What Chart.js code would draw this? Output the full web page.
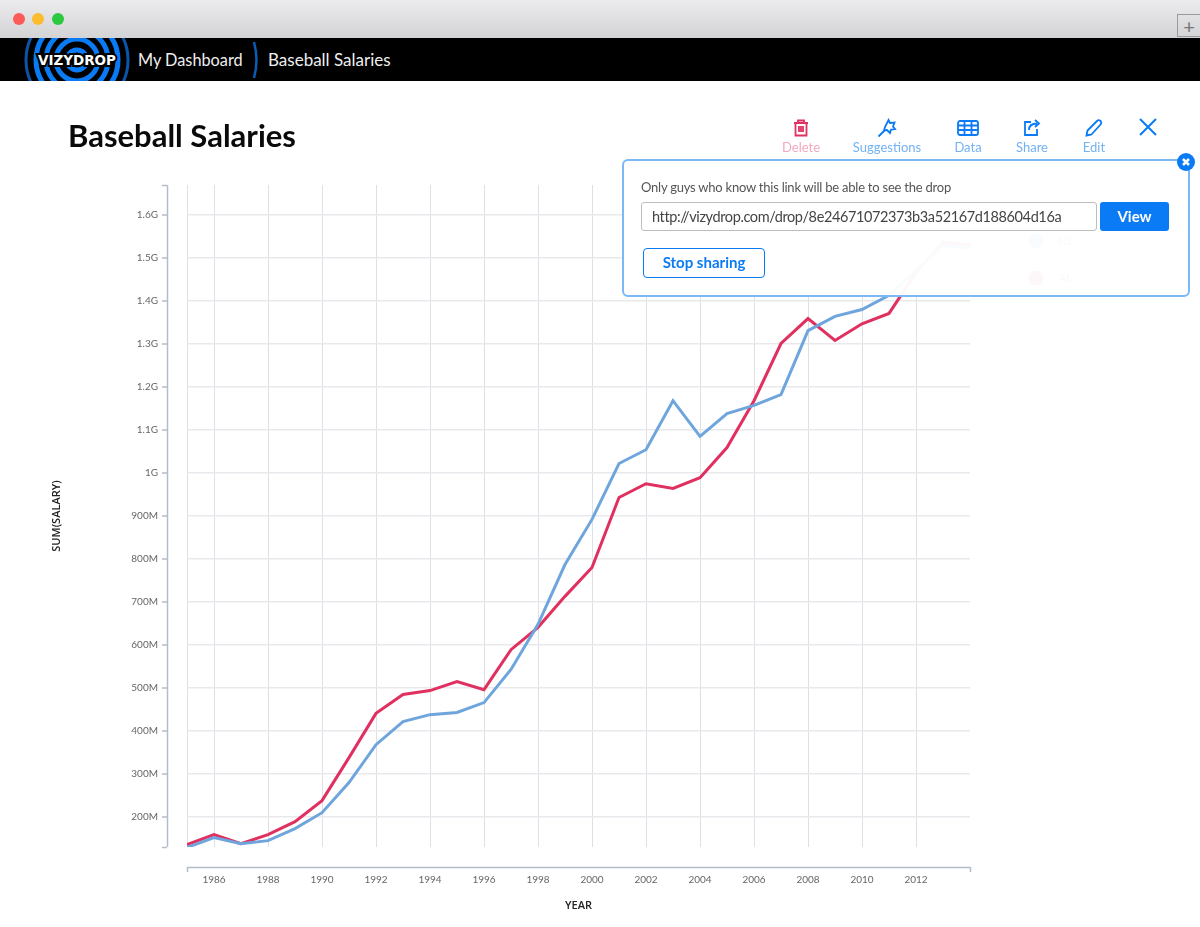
<!DOCTYPE html>
<html>
<head>
<meta charset="utf-8">
<title>Baseball Salaries</title>
<script src="https://cdn.jsdelivr.net/npm/chart.js@4"></script>
<style>
  html, body { margin: 0; padding: 0; background: #fff; }
  body { width: 1200px; height: 927px; position: relative; overflow: hidden; font-family: Lato, sans-serif; }
  #salaries { position: absolute; left: 0; top: 0; }
  .abs { position: absolute; white-space: nowrap; }
  #chrome { left: 0; top: 0; width: 1200px; height: 38px; background: linear-gradient(#ececee, #d3d2d4); }
  .dot { top: 13px; width: 12px; height: 12px; border-radius: 50%; }
  #plus { left: 1177px; top: 14px; width: 23px; height: 23px; border: 1px solid #9a9a9a; border-right: 0; box-sizing: border-box; color: #777; font-size: 20px; line-height: 22px; text-align: center; }
  #nav { left: 0; top: 38px; width: 1200px; height: 43px; background: #000; overflow: hidden; }
  .crumb { top: 50px; color: #eee; font-size: 17px; line-height: 20px; }
  h1 { margin: 0; left: 68px; top: 116px; font-size: 31px; line-height: 38px; font-weight: 700; color: #0a0a0a; }
  .tool { top: 118px; width: 90px; text-align: center; font-size: 13px; line-height: 17px; color: #73b2f3; }
  .tool svg { display: block; margin: 0 auto 1px; }
  #share { left: 622px; top: 159px; width: 568px; height: 138px; box-sizing: border-box; border: 2px solid #7ab9f6; border-radius: 6px; background: rgba(255, 255, 255, 0.96); }
  #closeShare { left: 1177px; top: 153px; width: 18px; height: 18px; border-radius: 50%; background: #0a7bf5; }
  #note { left: 641px; top: 179px; font-size: 13px; line-height: 17px; letter-spacing: -0.23px; color: #555; }
  #link { left: 641px; top: 202px; width: 456px; height: 29px; box-sizing: border-box; border: 1px solid #bdbdbd; border-radius: 3px; padding-left: 10px; font-size: 14.5px; line-height: 27px; letter-spacing: -0.39px; color: #444; background: #fff; }
  #view { left: 1100px; top: 202px; width: 69px; height: 29px; border-radius: 3px; background: #0a7bf5; color: #fff; font-size: 15px; font-weight: 700; line-height: 29px; text-align: center; }
  #stop { left: 643px; top: 248px; width: 122px; height: 30px; box-sizing: border-box; border: 1.5px solid #0a7bf5; border-radius: 4px; color: #0a7bf5; font-size: 15px; font-weight: 700; line-height: 27px; text-align: center; }
</style>
</head>
<body>
<canvas id="salaries" width="1200" height="927"></canvas>

<div class="abs" id="chrome"></div>
<div class="abs dot" style="left:13px;background:#fc5b57"></div>
<div class="abs dot" style="left:32px;background:#fdbb2e"></div>
<div class="abs dot" style="left:52px;background:#2bc840"></div>
<div class="abs" id="plus">+</div>

<div class="abs" id="nav">
  <svg width="160" height="43" style="position:absolute;left:0;top:0">
    <g fill="none" stroke="#0a7bf5" stroke-width="5">
      <circle cx="77" cy="22" r="51" stroke="#0a55a8" stroke-width="3"/>
      <circle cx="77" cy="22" r="41"/>
      <circle cx="77" cy="22" r="31"/>
      <circle cx="77" cy="22" r="21"/>
      <circle cx="77" cy="22" r="10"/>
    </g>
    <text x="77" y="27" text-anchor="middle" fill="#fff" stroke="#000" stroke-width="4" paint-order="stroke" font-family="DejaVu Sans" font-weight="700" font-size="13.5">VIZYDROP</text>
  </svg>
  <svg width="10" height="43" style="position:absolute;left:251px;top:0">
    <path d="M3 4 Q8 22 3 40" fill="none" stroke="#0a5cb5" stroke-width="2.5"/>
  </svg>
</div>
<div class="abs crumb" style="left:138px;font-size:16.3px">My Dashboard</div>
<div class="abs crumb" style="left:268px">Baseball Salaries</div>

<h1 class="abs">Baseball Salaries</h1>

<div class="abs tool" style="left:756px;color:#f3a9bf">
  <svg width="20" height="20" viewBox="0 0 20 20" fill="none" stroke="#e0305f" stroke-width="1.8"><path d="M3 5h14M7 5V2.5h6V5M4.5 5v12.5h11V5M8 8v6M10 8v6M12 8v6"/></svg>Delete
</div>
<div class="abs tool" style="left:842px">
  <svg width="20" height="20" viewBox="0 0 20 20" fill="none" stroke="#0a7bf5" stroke-width="1.8"><path d="M1.5 18.5l7-7M11.5 2l1.5 3 4.5-.5-1.5 4 2 2.5-4 .5-1 3.5-3-3-3 .5 1-3.5z"/></svg>Suggestions
</div>
<div class="abs tool" style="left:923px">
  <svg width="22" height="20" viewBox="0 0 22 20" fill="none" stroke="#0a7bf5" stroke-width="1.8"><rect x="1" y="3" width="20" height="14" rx="2"/><path d="M1 7.5h20M1 12h20M7.5 3v14M14.5 3v14"/></svg>Data
</div>
<div class="abs tool" style="left:987px">
  <svg width="20" height="20" viewBox="0 0 20 20" fill="none" stroke="#0a7bf5" stroke-width="1.8"><path d="M9 4H3v13h12v-6M7 12c0-4 3-6.5 8-6.5M13 2l4 3.5-4 3.5"/></svg>Share
</div>
<div class="abs tool" style="left:1049px">
  <svg width="20" height="20" viewBox="0 0 20 20" fill="none" stroke="#0a7bf5" stroke-width="1.8"><path d="M2.5 17.5l1-5L13 3c1-1 2.5-1 3.5 0s1 2.5 0 3.5L7.5 16.5z"/></svg>Edit
</div>
<svg class="abs" style="left:1139px;top:118px" width="18" height="18" fill="none" stroke="#0a7bf5" stroke-width="2"><path d="M1 1l16 16M17 1L1 17"/></svg>

<div class="abs" id="share"></div>
<div class="abs" id="closeShare">
  <svg width="18" height="18" fill="none" stroke="#fff" stroke-width="2.5"><path d="M6 6l6 6M12 6l-6 6"/></svg>
</div>
<div class="abs" id="note">Only guys who know this link will be able to see the drop</div>
<div class="abs" id="link">http://vizydrop.com/drop/8e24671072373b3a52167d188604d16a</div>
<div class="abs" id="view">View</div>
<div class="abs" id="stop">Stop sharing</div>

<script>
// values, in millions
const years = [1985, 1986, 1987, 1988, 1989, 1990, 1991, 1992, 1993, 1994,
  1995, 1996, 1997, 1998, 1999, 2000, 2001, 2002, 2003, 2004,
  2005, 2006, 2007, 2008, 2009, 2010, 2011, 2012, 2013, 2014];
const nlSalary = [128, 151, 137, 144, 172, 209, 279, 367, 421, 437,
  442, 465, 542, 647, 786, 891, 1021, 1053, 1167, 1084,
  1137, 1156, 1181, 1330, 1363, 1379, 1412, 1470, 1528, 1522];
const alSalary = [135, 158, 137, 158, 188, 237, 337, 440, 484, 493,
  514, 495, 588, 640, 712, 779, 942, 974, 963, 988,
  1058, 1167, 1300, 1358, 1307, 1346, 1370, 1465, 1535, 1530];
const seriesNames = ["NL", "AL"];
const yearTicks = [1985, 1986, 1988, 1990, 1992, 1994, 1996, 1998, 2000, 2002, 2004, 2006, 2008, 2010, 2012];
const salaryTicks = [200, 300, 400, 500, 600, 700, 800, 900, 1000, 1100, 1200, 1300, 1400, 1500, 1600];

const AXIS_GAP = 20;
const tickFont = { family: "Lato", size: 10 };
const axisTitleFont = { family: "Open Sans", size: 11, weight: "600" };

// the axis lines sit away from the plot, so they are drawn here from the scales
const detachedAxes = {
  id: "detachedAxes",
  afterDraw(chart) {
    const { ctx, chartArea: area, scales: { y } } = chart;
    const axisX = area.left - AXIS_GAP;
    const axisY = area.bottom + AXIS_GAP;
    ctx.save();
    ctx.strokeStyle = "#b4bccb";
    ctx.lineWidth = 1.5;
    ctx.beginPath();
    ctx.moveTo(axisX + 0.5, area.top);
    ctx.lineTo(axisX + 0.5, area.bottom);
    [area.top, area.bottom, ...salaryTicks.map((v) => y.getPixelForValue(v))].forEach((py) => {
      ctx.moveTo(axisX - 5, py + 0.5);
      ctx.lineTo(axisX, py + 0.5);
    });
    ctx.moveTo(area.left, axisY + 0.5);
    ctx.lineTo(area.right, axisY + 0.5);
    [area.left, area.right].forEach((px) => {
      ctx.moveTo(px + 0.5, axisY);
      ctx.lineTo(px + 0.5, axisY + 5);
    });
    ctx.stroke();
    ctx.restore();
  },
};

// legend in the right margin, it ends up behind the share box
const sideLegend = {
  id: "sideLegend",
  afterDraw(chart) {
    const { ctx, chartArea: area } = chart;
    ctx.save();
    ctx.font = "12px Lato";
    ctx.textBaseline = "middle";
    chart.data.datasets.forEach((ds, i) => {
      const cy = area.top + 56 + i * 37;
      ctx.fillStyle = ds.borderColor;
      ctx.beginPath();
      ctx.arc(area.right + 66, cy, 7.5, 0, Math.PI * 2);
      ctx.fill();
      ctx.fillStyle = "#666";
      ctx.fillText(ds.label, area.right + 88, cy);
    });
    ctx.restore();
  },
};

new Chart(document.getElementById("salaries"), {
  type: "line",
  data: {
    labels: years,
    datasets: [
      { label: seriesNames[0], data: nlSalary, borderColor: "#6fa5dd", borderWidth: 3 },
      { label: seriesNames[1], data: alSalary, borderColor: "#e0305f", borderWidth: 3 },
    ].map((ds) => ({ ...ds, data: ds.data.map((v, i) => ({ x: years[i], y: v })), pointRadius: 0, tension: 0, fill: false })),
  },
  options: {
    responsive: false,
    animation: false,
    devicePixelRatio: 1,
    layout: { padding: { left: 40, top: 185, right: 230, bottom: 10 } },
    plugins: { legend: { display: false }, tooltip: { enabled: false } },
    scales: {
      x: {
        type: "linear",
        min: 1985,
        max: 2014,
        afterBuildTicks: (scale) => { scale.ticks = yearTicks.map((value) => ({ value })); },
        afterFit: (scale) => { scale.height = 70; },
        grid: { color: "#dfe0e5", lineWidth: 1, drawTicks: false },
        border: { display: false },
        ticks: {
          autoSkip: false,
          maxRotation: 0,
          padding: 27,
          color: "#666",
          font: tickFont,
          callback: (v) => (v % 2 ? "" : String(v)),
        },
        title: {
          display: true,
          text: "YEAR",
          color: "#222",
          padding: { top: 0, bottom: 5 },
          font: axisTitleFont,
        },
      },
      y: {
        min: 129.2,
        max: 1668.6,
        afterBuildTicks: (scale) => { scale.ticks = salaryTicks.map((value) => ({ value })); },
        afterFit: (scale) => { scale.width = 147; },
        grid: { color: "#e9e9ed", lineWidth: 1.5, drawTicks: false },
        border: { display: false },
        ticks: {
          autoSkip: false,
          padding: 29,
          color: "#666",
          font: tickFont,
          callback: (v) => (v >= 1000 ? v / 1000 + "G" : v + "M"),
        },
        title: {
          display: true,
          text: "SUM(SALARY)",
          color: "#222",
          padding: { top: 10, bottom: 0 },
          font: axisTitleFont,
        },
      },
    },
  },
  plugins: [detachedAxes, sideLegend],
});
</script>
</body>
</html>
